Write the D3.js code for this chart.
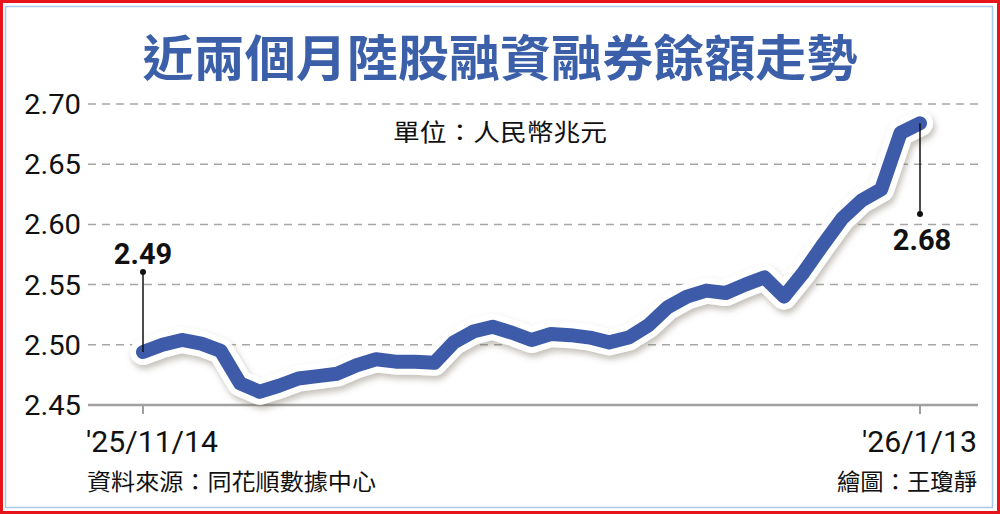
<!DOCTYPE html>
<html>
<head>
<meta charset="utf-8">
<script src="https://cdn.jsdelivr.net/npm/d3@7"></script>
<style>
  html, body { margin: 0; padding: 0; background: #fff; }
  svg { display: block; }
</style>
</head>
<body>
<div id="chart"></div>
<script>
// trading days from '25/11/14 to '26/1/13, margin balance (trillion RMB)
var values = [2.494, 2.500, 2.504, 2.501, 2.495, 2.468, 2.461, 2.466, 2.472, 2.474,
  2.476, 2.483, 2.488, 2.486, 2.486, 2.485, 2.502, 2.511, 2.515, 2.510,
  2.504, 2.509, 2.508, 2.506, 2.502, 2.506, 2.516, 2.531, 2.540, 2.545,
  2.543, 2.550, 2.556, 2.540, 2.560, 2.583, 2.605, 2.620, 2.629, 2.676,
  2.684];
var yTicks = [2.45, 2.50, 2.55, 2.60, 2.65, 2.70];
var xLabels = ["'25/11/14", "'26/1/13"];
var endLabels = ["2.49", "2.68"];

var title = "近兩個月陸股融資融券餘額走勢";
var unitText = "單位：人民幣兆元";
var sourceText = "資料來源：同花順數據中心";
var creditText = "繪圖：王瓊靜";

var width = 1000, height = 514;
var blue = "#3d5ba9";
var cjk = "'Noto Sans CJK TC', 'Noto Sans CJK SC', sans-serif";
var num = "Roboto, 'Liberation Sans', sans-serif";

var svg = d3.select("#chart").append("svg")
  .attr("width", width)
  .attr("height", height);

var defs = svg.append("defs");
var f = defs.append("filter").attr("id", "shadow")
  .attr("x", "-10%").attr("y", "-30%").attr("width", "120%").attr("height", "160%");
f.append("feDropShadow")
  .attr("dx", 2).attr("dy", 4)
  .attr("stdDeviation", 3)
  .attr("flood-color", "#6b5f50")
  .attr("flood-opacity", 0.4);

// frame
svg.append("rect").attr("width", width).attr("height", height).attr("fill", "#fff");
svg.append("rect")
  .attr("x", 1.5).attr("y", 1.5)
  .attr("width", width - 3).attr("height", height - 3)
  .attr("fill", "none").attr("stroke", "#e8141c").attr("stroke-width", 3);
svg.append("rect")
  .attr("x", 5.5).attr("y", 6.5)
  .attr("width", 987).attr("height", 501)
  .attr("fill", "none").attr("stroke", "#a9c9e6").attr("stroke-width", 1.5);

// title
svg.append("text")
  .attr("x", 500).attr("y", 76)
  .attr("text-anchor", "middle")
  .attr("textLength", 715).attr("lengthAdjust", "spacingAndGlyphs")
  .style("font-family", cjk)
  .style("font-weight", 700)
  .style("font-size", "49px")
  .style("fill", "#3b5fa8")
  .text(title);

var x = d3.scaleLinear()
  .domain([0, values.length - 1])
  .range([143, 920]);

var y = d3.scaleLinear()
  .domain([2.45, 2.70])
  .range([405, 104]);

// grid
svg.append("g").selectAll("line")
  .data(yTicks.slice(1))
  .enter().append("line")
  .attr("x1", 88).attr("x2", 978)
  .attr("y1", function(d) { return y(d); })
  .attr("y2", function(d) { return y(d); })
  .attr("stroke", "#a6a6a6")
  .attr("stroke-width", 1.5)
  .attr("stroke-dasharray", "8,6");

svg.append("line")
  .attr("x1", 88).attr("x2", 978)
  .attr("y1", y(2.45)).attr("y2", y(2.45))
  .attr("stroke", "#a0a0a0").attr("stroke-width", 2.5);

// x tick marks
svg.append("g").selectAll("line")
  .data([0, values.length - 1])
  .enter().append("line")
  .attr("x1", function(d) { return x(d); })
  .attr("x2", function(d) { return x(d); })
  .attr("y1", y(2.45)).attr("y2", y(2.45) + 9)
  .attr("stroke", "#a0a0a0").attr("stroke-width", 2);

// y axis labels
svg.append("g").selectAll("text")
  .data(yTicks)
  .enter().append("text")
  .attr("x", 81)
  .attr("y", function(d) { return y(d) + 10; })
  .attr("text-anchor", "end")
  .attr("textLength", 57).attr("lengthAdjust", "spacingAndGlyphs")
  .style("font-family", num)
  .style("font-size", "27px")
  .style("fill", "#111")
  .text(function(d) { return d3.format(".2f")(d); });

// unit
svg.append("text")
  .attr("x", 393).attr("y", 141)
  .attr("textLength", 214).attr("lengthAdjust", "spacingAndGlyphs")
  .style("font-family", cjk)
  .style("font-size", "24px")
  .style("fill", "#111")
  .text(unitText);

// line
var line = d3.line()
  .x(function(d, i) { return x(i); })
  .y(function(d) { return y(d); });

svg.append("path")
  .datum(values)
  .attr("d", line)
  .attr("fill", "none")
  .attr("stroke", "#fff")
  .attr("stroke-width", 26)
  .attr("stroke-linejoin", "round")
  .attr("stroke-linecap", "round")
  .attr("filter", "url(#shadow)");

svg.append("path")
  .datum(values)
  .attr("d", line)
  .attr("fill", "none")
  .attr("stroke", blue)
  .attr("stroke-width", 14)
  .attr("stroke-linejoin", "round")
  .attr("stroke-linecap", "round");

// end annotations: leader line up / down from the end point, dot, value
var ann = [
  { i: 0, dotY: 272, textY: 264, dx: 0 },
  { i: values.length - 1, dotY: 214, textY: 250, dx: 2 }
];
ann.forEach(function(a, k) {
  var px = x(a.i), py = y(values[a.i]);
  svg.append("line")
    .attr("x1", px).attr("x2", px)
    .attr("y1", py).attr("y2", a.dotY)
    .attr("stroke", "#111").attr("stroke-width", 1.5);
  svg.append("circle")
    .attr("cx", px).attr("cy", a.dotY).attr("r", 3)
    .attr("fill", "#111");
  svg.append("text")
    .attr("x", px + a.dx).attr("y", a.textY)
    .attr("text-anchor", "middle")
    .style("font-family", num)
    .style("font-weight", 700)
    .style("font-size", "29px")
    .style("fill", "#111")
    .text(endLabels[k]);
});

// x labels
svg.append("text")
  .attr("x", 86).attr("y", 452)
  .attr("textLength", 132).attr("lengthAdjust", "spacingAndGlyphs")
  .style("font-family", num)
  .style("font-size", "29px")
  .style("fill", "#111")
  .text(xLabels[0]);
svg.append("text")
  .attr("x", 977).attr("y", 452)
  .attr("text-anchor", "end")
  .attr("textLength", 115).attr("lengthAdjust", "spacingAndGlyphs")
  .style("font-family", num)
  .style("font-size", "29px")
  .style("fill", "#111")
  .text(xLabels[1]);

// footer
svg.append("text")
  .attr("x", 87).attr("y", 490)
  .attr("textLength", 289).attr("lengthAdjust", "spacingAndGlyphs")
  .style("font-family", cjk)
  .style("font-size", "23px")
  .style("fill", "#111")
  .text(sourceText);
svg.append("text")
  .attr("x", 977).attr("y", 490)
  .attr("text-anchor", "end")
  .attr("textLength", 140).attr("lengthAdjust", "spacingAndGlyphs")
  .style("font-family", cjk)
  .style("font-size", "23px")
  .style("fill", "#111")
  .text(creditText);
</script>
</body>
</html>
